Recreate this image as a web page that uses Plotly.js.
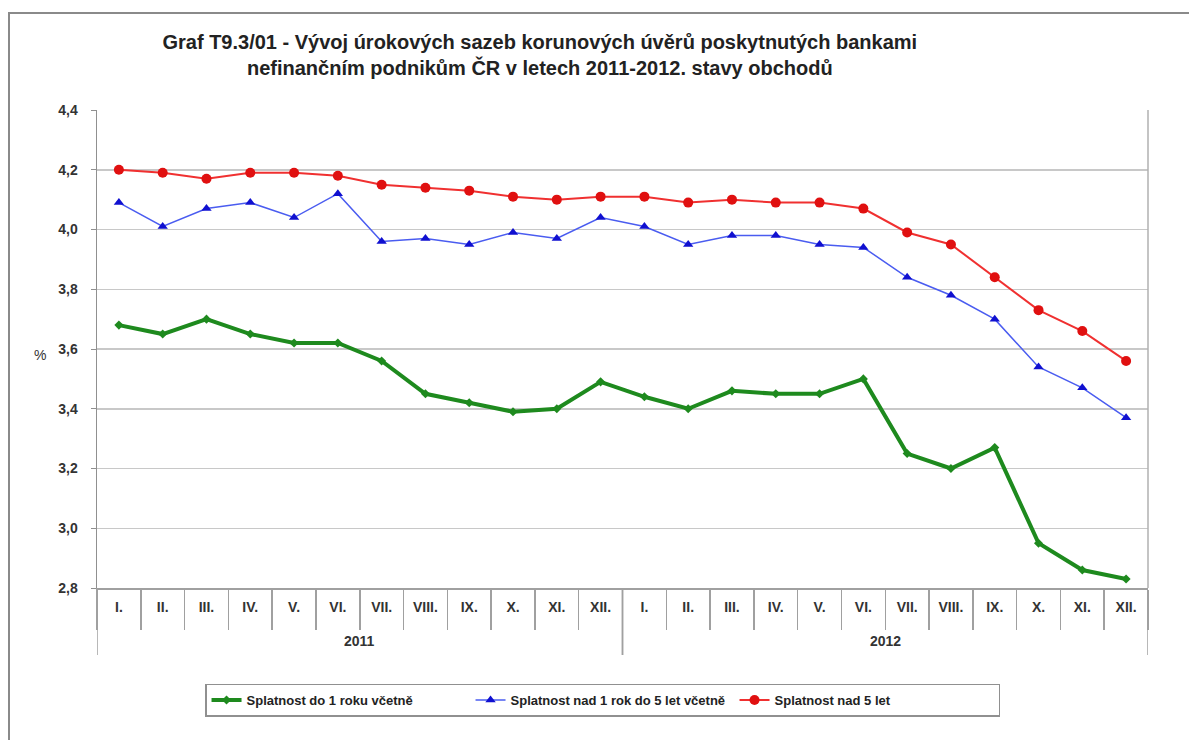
<!DOCTYPE html>
<html>
<head>
<meta charset="utf-8">
<script src="https://cdn.plot.ly/plotly-3.0.1.min.js"></script>
<style>
html,body{margin:0;padding:0;background:#fff;overflow:hidden;}
#chart{width:1189px;height:740px;}
</style>
</head>
<body>
<div id="chart"></div>
<script>
const years = ["2011","2011","2011","2011","2011","2011","2011","2011","2011","2011","2011","2011",
               "2012","2012","2012","2012","2012","2012","2012","2012","2012","2012","2012","2012"];
const months = ["I.","II.","III.","IV.","V.","VI.","VII.","VIII.","IX.","X.","XI.","XII.",
                "I.","II.","III.","IV.","V.","VI.","VII.","VIII.","IX.","X.","XI.","XII."];
const seriesNames = ["Splatnost do 1 roku včetně","Splatnost nad 1 rok do 5 let včetně","Splatnost nad 5 let"];
const shortTerm = [3.68,3.65,3.70,3.65,3.62,3.62,3.56,3.45,3.42,3.39,3.40,3.49,
                   3.44,3.40,3.46,3.45,3.45,3.50,3.25,3.20,3.27,2.95,2.86,2.83];
const midTerm = [4.09,4.01,4.07,4.09,4.04,4.12,3.96,3.97,3.95,3.99,3.97,4.04,
                 4.01,3.95,3.98,3.98,3.95,3.94,3.84,3.78,3.70,3.54,3.47,3.37];
const longTerm = [4.20,4.19,4.17,4.19,4.19,4.18,4.15,4.14,4.13,4.11,4.10,4.11,
                  4.11,4.09,4.10,4.09,4.09,4.07,3.99,3.95,3.84,3.73,3.66,3.56];
const yTicks = [2.8,3.0,3.2,3.4,3.6,3.8,4.0,4.2,4.4];
const titleText = "Graf T9.3/01 - Vývoj úrokových sazeb korunových úvěrů poskytnutých bankami<br>nefinančním podnikům ČR v letech 2011-2012. stavy obchodů";

const FONT = "'Liberation Sans', Arial, sans-serif";
// unique category keys built from year + month
const xKeys = years.map((y, i) => y + " " + months[i]);

const traces = [
  {x: xKeys, y: shortTerm, name: seriesNames[0], type: "scatter", mode: "lines+markers",
   line: {color: "#1e8a1e", width: 4}, marker: {symbol: "diamond", size: 7, color: "#1e8a1e"}},
  {x: xKeys, y: midTerm, name: seriesNames[1], type: "scatter", mode: "lines+markers",
   line: {color: "#4a5cf0", width: 1.5}, marker: {symbol: "triangle-up", size: 9, color: "#1010d0"}},
  {x: xKeys, y: longTerm, name: seriesNames[2], type: "scatter", mode: "lines+markers",
   line: {color: "#f03030", width: 2}, marker: {symbol: "circle", size: 10, color: "#e01010"}}
];

// year groups: label at group centre, dividers at group edges
const yearGroups = [...new Set(years)].map(yr => {
  const first = years.indexOf(yr), last = years.lastIndexOf(yr);
  return {yr, first, last};
});

const annotations = [
  {text: "%", xref: "paper", yref: "paper", x: (40-97)/1051, y: (588-355)/478, showarrow: false,
   xanchor: "center", yanchor: "middle", font: {family: FONT, size: 14, color: "#333"}}
];
const shapes = [
  {type: "line", xref: "paper", yref: "paper", x0: 1, x1: 1, y0: 0, y1: 1,
   line: {color: "#b0b0b0", width: 1.5}},
  {type: "rect", xref: "paper", yref: "paper",
   x0: (9-97)/1051, x1: 1.3, y0: -0.5, y1: (588-13)/478,
   line: {color: "#8a8a8a", width: 2}, fillcolor: "rgba(0,0,0,0)"}
];
yearGroups.forEach(g => {
  annotations.push({text: g.yr, xref: "x", yref: "paper", x: (g.first + g.last) / 2, y: (588-641)/478,
    showarrow: false, xanchor: "center", yanchor: "middle",
    font: {family: FONT, size: 14, color: "#333", weight: "bold"}});
  [g.first - 0.5, g.last + 0.5].forEach(xb => shapes.push({type: "line", xref: "x", yref: "paper",
    x0: xb, x1: xb, y0: 0, y1: (588-655)/478, line: {color: "#a0a0a0", width: 1.5}}));
});

const layout = {
  width: 1189, height: 740,
  paper_bgcolor: "#ffffff", plot_bgcolor: "#ffffff",
  separators: ", ",
  font: {family: FONT, color: "#222", size: 12},
  margin: {l: 97, r: 41, t: 110, b: 152},
  showlegend: true,
  title: {text: titleText, x: 0.454, xanchor: "center", y: 0.934, yanchor: "top",
          font: {family: FONT, size: 20, color: "#222", weight: "bold"}},
  xaxis: {type: "category", range: [-0.5, 23.5], tickvals: xKeys, ticktext: months, tickson: "boundaries",
          showgrid: false, showline: true, linecolor: "#a0a0a0", linewidth: 1.5,
          ticks: "outside", ticklen: 40, tickcolor: "#a0a0a0", tickwidth: 1.5, ticklabelstandoff: 6,
          tickfont: {family: FONT, size: 14, color: "#333", weight: "bold"}, zeroline: false},
  yaxis: {range: [2.8, 4.4], tickvals: yTicks, tickformat: ".1f", showgrid: true, gridcolor: "#c8c8c8", gridwidth: 1.5,
          showline: true, linecolor: "#909090", linewidth: 1.5, ticks: "outside", ticklen: 5, tickcolor: "#909090",
          zeroline: false, ticklabelstandoff: 10, tickfont: {family: FONT, size: 14, color: "#333", weight: "bold"},
          title: {text: "", standoff: 0}},
  legend: {orientation: "h", x: 0.481, xanchor: "center", y: -0.2, yanchor: "top",
           bordercolor: "#909090", borderwidth: 1.5, bgcolor: "#fff",
           font: {family: FONT, size: 13, color: "#222", weight: "bold"},
           entrywidth: 219, entrywidthmode: "pixels", traceorder: "normal"},
  shapes: shapes,
  annotations: annotations
};

Plotly.newPlot("chart", traces, layout, {displayModeBar: false, staticPlot: true});
</script>
</body>
</html>
